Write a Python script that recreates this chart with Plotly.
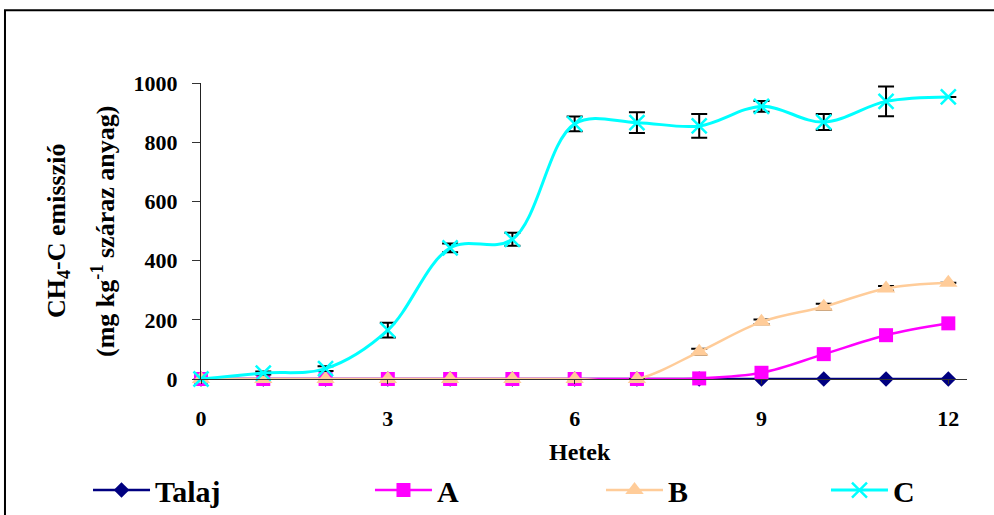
import plotly.graph_objects as go

# Weekly CH4-C emission (mg kg-1 dry matter)
weeks = [0, 1, 2, 3, 4, 5, 6, 7, 8, 9, 10, 11, 12]
talaj = [0, 0, 0, 0, 0, 0, 0, 0, 0, 0, 0, 0, 0]
a_vals = [0, 0, 0, 0, 0, 0, 0, 0, 2, 21, 84, 148, 188]
b_vals = [0, 0, 0, 0, 0, 0, 0, 0, 92, 193, 244, 306, 325]
c_vals = [0, 20, 35, 165, 443, 472, 862, 866, 855, 921, 868, 938, 953]
b_err = [0, 0, 0, 0, 0, 0, 0, 0, 10, 8, 10, 8, 0]
c_err = [0, 5, 8, 25, 15, 22, 25, 35, 40, 18, 27, 50, 0]

x_ticks = [0, 3, 6, 9, 12]
y_ticks = [0, 200, 400, 600, 800, 1000]

FONT = "Liberation Serif"

# each series gets its own legend box so the entries sit in one spaced row
series = [
    dict(name="Talaj", y=talaj, err=None, color="#000080",
         symbol="diamond", size=12, lw=2.5, legend="legend", lx=-0.1475),
    dict(name="A", y=a_vals, err=None, color="#FF00FF",
         symbol="square", size=14, lw=2.5, legend="legend2", lx=0.2206),
    dict(name="B", y=b_vals, err=b_err, color="#FFCC99",
         symbol="triangle-up", size=16, lw=2.5, legend="legend3", lx=0.5222),
    dict(name="C", y=c_vals, err=c_err, color="#00FFFF",
         symbol="x-thin", size=15, lw=3, legend="legend4", lx=0.8159),
]

fig = go.Figure()
legend_cfg = {}
for s in series:
    marker = dict(symbol=s["symbol"], size=s["size"], color=s["color"])
    if s["symbol"] == "x-thin":
        marker["line"] = dict(color=s["color"], width=2.5)
    else:
        marker["line"] = dict(width=0)
    err = None
    if s["err"] is not None:
        err = dict(type="data", array=s["err"], visible=True,
                   color="black", thickness=2, width=8)
    fig.add_trace(go.Scatter(
        x=weeks, y=s["y"], name=s["name"], mode="lines+markers",
        line=dict(color=s["color"], width=s["lw"], shape="spline"),
        marker=marker, error_y=err, cliponaxis=False,
        legend=s["legend"], showlegend=True,
    ))
    legend_cfg[s["legend"]] = dict(
        x=s["lx"], xanchor="left",
        yref="container", y=0.0485, yanchor="middle",
        itemwidth=57, bgcolor="rgba(0,0,0,0)", borderwidth=0,
        font=dict(family=FONT, size=30, weight="bold"),
    )

fig.update_layout(
    width=994, height=515,
    margin=dict(l=201, r=27, t=83, b=136, autoexpand=False),
    paper_bgcolor="white", plot_bgcolor="white",
    font=dict(family=FONT, color="black"),
    showlegend=True,
    **legend_cfg,
    xaxis=dict(
        range=[0, 12.3], tickvals=x_ticks, ticktext=[str(v) for v in x_ticks],
        showgrid=False, zeroline=False,
        showline=True, linecolor="#333", linewidth=1,
        ticks="outside", ticklen=4, tickcolor="#333",
        ticklabelstandoff=16,
        tickfont=dict(family=FONT, size=22, weight="bold"),
    ),
    yaxis=dict(
        range=[0, 1000], tickvals=y_ticks, ticktext=[str(v) for v in y_ticks],
        showgrid=False, zeroline=False,
        showline=True, linecolor="#222", linewidth=1,
        ticks="outside", ticklen=8, tickcolor="#333",
        ticklabelstandoff=10,
        tickfont=dict(family=FONT, size=22, weight="bold"),
    ),
    annotations=[
        dict(text="Hetek", xref="paper", yref="paper", x=0.495, y=-0.246,
             showarrow=False, xanchor="center", yanchor="middle",
             font=dict(family=FONT, size=24, weight="bold")),
        dict(text="CH<sub>4</sub>-C emisszió", xref="paper", yref="paper",
             x=-0.1867, y=0.5, textangle=-90, showarrow=False,
             xanchor="center", yanchor="middle",
             font=dict(family=FONT, size=26, weight="bold")),
        dict(text="(mg kg<sup>-1</sup> száraz anyag)", xref="paper", yref="paper",
             x=-0.128, y=0.5, textangle=-90, showarrow=False,
             xanchor="center", yanchor="middle",
             font=dict(family=FONT, size=26, weight="bold")),
    ],
    shapes=[
        dict(type="rect", xref="paper", yref="paper",
             x0=-0.2559, x1=1.1, y0=-0.5, y1=1.2454,
             line=dict(color="black", width=2), fillcolor="rgba(0,0,0,0)",
             layer="below"),
    ],
)

fig.write_html("out.html")
